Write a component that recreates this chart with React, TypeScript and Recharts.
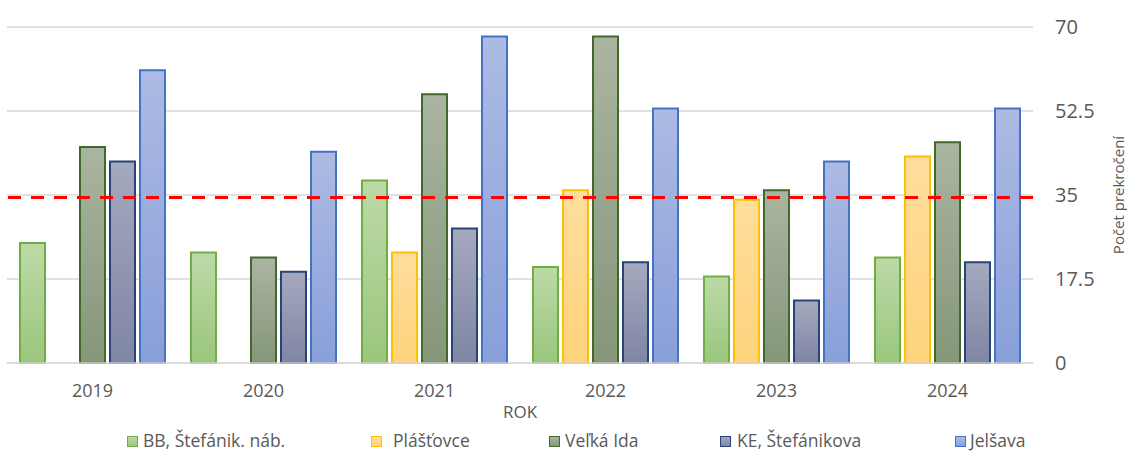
import { Bar, BarChart, CartesianGrid, Legend, ReferenceLine, XAxis, YAxis } from 'recharts'

const years = ['2019', '2020', '2021', '2022', '2023', '2024']
const bbStefanik = [25, 23, 38, 20, 18, 22]
const plastovce = [null, null, 23, 36, 34, 43]
const velkaIda = [45, 22, 56, 68, 36, 46]
const keStefanikova = [42, 19, 28, 21, 13, 21]
const jelsava = [61, 44, 68, 53, 42, 53]
const yTicks = [0, 17.5, 35, 52.5, 70]
const limitValue = 34.5

const series = [
  { key: 'bb', name: 'BB, Štefánik. náb.', values: bbStefanik, stroke: '#70ad47', top: '#bcdaa8', bottom: '#9bc67d' },
  { key: 'pl', name: 'Plášťovce', values: plastovce, stroke: '#ffc000', top: '#ffdd9c', bottom: '#fed37c' },
  { key: 'vi', name: 'Veľká Ida', values: velkaIda, stroke: '#43682b', top: '#aab5a1', bottom: '#859679' },
  { key: 'ke', name: 'KE, Štefánikova', values: keStefanikova, stroke: '#264478', top: '#a5a9be', bottom: '#7f86a4' },
  { key: 'je', name: 'Jelšava', values: jelsava, stroke: '#4472c4', top: '#adbbe3', bottom: '#889fda' },
]

const data = years.map((year, i) => {
  const row: Record<string, string | number | null> = { year }
  series.forEach((s) => {
    row[s.key] = s.values[i]
  })
  return row
})

const font = '"Open Sans", sans-serif'
const gray = '#595959'

// legend item positions (square left, text left)
const legendPos = [
  [127, 143],
  [371, 393],
  [549, 565],
  [720, 737],
  [955, 970],
]

function ChartLegend() {
  return (
    <div style={{ position: 'relative', width: 1127, height: 31, fontFamily: font, fontSize: 17.5, color: gray }}>
      {series.map((s, i) => (
        <div key={s.key}>
          <div
            style={{
              position: 'absolute',
              left: legendPos[i][0],
              top: 16,
              width: 9,
              height: 9,
              border: `1.5px solid ${s.stroke}`,
              background: `linear-gradient(${s.top}, ${s.bottom})`,
            }}
          />
          <div style={{ position: 'absolute', left: legendPos[i][1], top: 9, whiteSpace: 'nowrap', lineHeight: '22px' }}>
            {s.name}
          </div>
        </div>
      ))}
    </div>
  )
}

function YLabel(props: any) {
  const { x, y, width, height } = props.viewBox
  const cx = x + width - 9
  const cy = y + height / 2
  return (
    <text
      x={cx}
      y={cy}
      transform={`rotate(-90, ${cx}, ${cy})`}
      textAnchor="middle"
      dominantBaseline="central"
      fill={gray}
      fontSize={15}
      fontFamily={font}
    >
      Počet prekročení
    </text>
  )
}

export default function App() {
  return (
    <div style={{ position: 'absolute', left: 0, top: 0, width: 1127, height: 451, background: '#fff' }}>
      <BarChart
        width={1127}
        height={451}
        data={data}
        margin={{ top: 27, right: 0, left: 7, bottom: 0 }}
        barGap={5}
        barSize={25}
      >
        <defs>
          {series.map((s) => (
            <linearGradient key={s.key} id={`grad-${s.key}`} x1="0" y1="0" x2="0" y2="1">
              <stop offset="0%" stopColor={s.top} />
              <stop offset="100%" stopColor={s.bottom} />
            </linearGradient>
          ))}
        </defs>
        <CartesianGrid vertical={false} stroke="#d9d9d9" strokeWidth={1.5} />
        <XAxis
          dataKey="year"
          height={57}
          axisLine={{ stroke: '#d9d9d9', strokeWidth: 1.5 }}
          tickLine={false}
          tickSize={0}
          tickMargin={21}
          tick={{ fill: gray, fontSize: 18, fontFamily: font }}
          label={{ value: 'ROK', position: 'insideBottom', offset: 2, fill: gray, fontSize: 17, fontFamily: font }}
        />
        <YAxis
          orientation="right"
          width={94}
          domain={[0, 70]}
          ticks={yTicks}
          axisLine={false}
          tickLine={false}
          tickSize={0}
          tickMargin={22}
          tick={{ fill: gray, fontSize: 20, fontFamily: font }}
          label={(p: any) => <YLabel {...p} />}
        />
        {series.map((s) => (
          <Bar
            key={s.key}
            dataKey={s.key}
            name={s.name}
            fill={`url(#grad-${s.key})`}
            stroke={s.stroke}
            strokeWidth={2}
            isAnimationActive={false}
          />
        ))}
        <ReferenceLine y={limitValue} stroke="#ff0000" strokeWidth={3} strokeDasharray="13 10" />
        <Legend
          verticalAlign="bottom"
          content={() => <ChartLegend />}
          wrapperStyle={{ left: 0, width: 1127, height: 31 }}
        />
      </BarChart>
    </div>
  )
}
